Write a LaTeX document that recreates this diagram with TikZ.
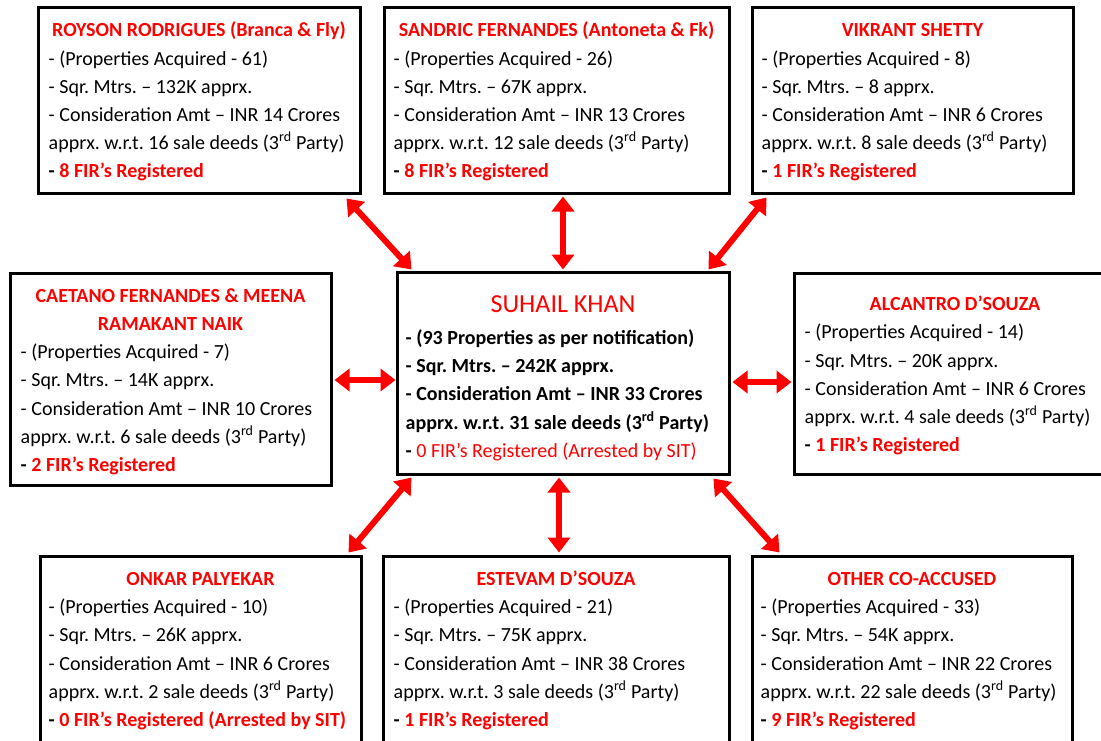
\documentclass[tikz,border=0pt]{standalone}
\usepackage{fontspec}
\setmainfont{Carlito}
\usetikzlibrary{arrows.meta,calc}
\newcommand{\redtxt}[1]{\textcolor{red}{#1}}
\newcommand{\trd}{3\textsuperscript{rd}}
\frenchspacing
\begin{document}
\begin{tikzpicture}[x=1pt,y=-1pt,
  box/.style={draw=black,line width=3pt,inner sep=0pt},
  ttl/.style={anchor=north,inner sep=0pt,align=center,text=red,font=\frenchspacing\fontsize{20}{28.1}\selectfont\bfseries},
  body/.style={anchor=north west,inner sep=0pt,align=left,font=\frenchspacing\fontsize{20}{28.1}\selectfont},
  arr/.style={draw=red,line width=6pt,arrows={Triangle[width=22pt,length=15pt]-Triangle[width=22pt,length=15pt]}}]
\useasboundingbox (0,0) rectangle (1101,740);
\fill[white] (0,0) rectangle (1101,740);

% boxes
\node[box,minimum width=322pt,minimum height=186pt] (royson) at (199,100) {};
\node[box,minimum width=345pt,minimum height=186pt] (sandric) at (556.5,100) {};
\node[box,minimum width=321pt,minimum height=186pt] (vikrant) at (912.5,100) {};
\node[box,minimum width=321pt,minimum height=212pt] (caetano) at (170.5,379) {};
\node[box,minimum width=332pt,minimum height=202pt] (suhail) at (563,373) {};
\node[box,minimum width=322pt,minimum height=201pt] (alcantro) at (955,373.5) {};
\node[box,minimum width=321pt,minimum height=187pt] (onkar) at (200.5,649.5) {};
\node[box,minimum width=346pt,minimum height=187pt] (estevam) at (556,649.5) {};
\node[box,minimum width=320pt,minimum height=187pt] (other) at (912,649.5) {};

% titles
\node[ttl] (royson-t) at ($(royson.north)+(0,11.6)$) {\strut ROYSON RODRIGUES (Branca \& Fly)};
\node[ttl] (sandric-t) at ($(sandric.north)+(0,11.6)$) {\strut SANDRIC FERNANDES (Antoneta \& Fk)};
\node[ttl] (vikrant-t) at ($(vikrant.north)+(0,11.6)$) {\strut VIKRANT SHETTY};
\node[ttl] (caetano-t) at ($(caetano.north)+(0,11.3)$) {\strut CAETANO FERNANDES \& MEENA\\\strut RAMAKANT NAIK};
\node[ttl,font=\fontsize{26}{28.35}\selectfont] (suhail-t) at ($(suhail.north)+(0,22.1)$) {\strut SUHAIL KHAN};
\node[ttl] (alcantro-t) at ($(alcantro.north)+(0,19.6)$) {\strut ALCANTRO D’SOUZA};
\node[ttl] (onkar-t) at ($(onkar.north)+(0,11.1)$) {\strut ONKAR PALYEKAR};
\node[ttl] (estevam-t) at ($(estevam.north)+(0,11.1)$) {\strut ESTEVAM D’SOUZA};
\node[ttl] (other-t) at ($(other.north)+(0,11.1)$) {\strut OTHER CO-ACCUSED};

% bodies
\node[body] (royson-b) at ($(royson.north west)+(12,39.7)$) {\strut - (Properties Acquired - 61)\\
- Sqr. Mtrs. – 132K apprx.\\
- Consideration Amt – INR 14 Crores\\
apprx. w.r.t. 16 sale deeds (\trd{} Party)\\
\textbf{- \redtxt{8 FIR’s Registered}}};
\node[body] (sandric-b) at ($(sandric.north west)+(11,39.7)$) {\strut - (Properties Acquired - 26)\\
- Sqr. Mtrs. – 67K apprx.\\
- Consideration Amt – INR 13 Crores\\
apprx. w.r.t. 12 sale deeds (\trd{} Party)\\
\textbf{- \redtxt{8 FIR’s Registered}}};
\node[body] (vikrant-b) at ($(vikrant.north west)+(11,39.7)$) {\strut - (Properties Acquired - 8)\\
- Sqr. Mtrs. – 8 apprx.\\
- Consideration Amt – INR 6 Crores\\
apprx. w.r.t. 8 sale deeds (\trd{} Party)\\
\textbf{- \redtxt{1 FIR’s Registered}}};
\node[body] (caetano-b) at ($(caetano.north west)+(12,67.5)$) {\strut - (Properties Acquired - 7)\\
- Sqr. Mtrs. – 14K apprx.\\
- Consideration Amt – INR 10 Crores\\
apprx. w.r.t. 6 sale deeds (\trd{} Party)\\
\textbf{- \redtxt{2 FIR’s Registered}}};
\node[body,font=\frenchspacing\fontsize{20}{28.35}\selectfont\bfseries] (suhail-b) at ($(suhail.north west)+(10,53.6)$) {\strut - (93 Properties as per notification)\\
- Sqr. Mtrs. – 242K apprx.\\
- Consideration Amt – INR 33 Crores\\
apprx. w.r.t. 31 sale deeds (\trd{} Party)\\
- \mdseries\redtxt{0 FIR’s Registered (Arrested by SIT)}};
\node[body] (alcantro-b) at ($(alcantro.north west)+(12,47.6)$) {\strut - (Properties Acquired - 14)\\
- Sqr. Mtrs. – 20K apprx.\\
- Consideration Amt – INR 6 Crores\\
apprx. w.r.t. 4 sale deeds (\trd{} Party)\\
\textbf{- \redtxt{1 FIR’s Registered}}};
\node[body] (onkar-b) at ($(onkar.north west)+(10,39.5)$) {\strut - (Properties Acquired - 10)\\
- Sqr. Mtrs. – 26K apprx.\\
- Consideration Amt – INR 6 Crores\\
apprx. w.r.t. 2 sale deeds (\trd{} Party)\\
\textbf{- \redtxt{0 FIR’s Registered (Arrested by SIT)}}};
\node[body] (estevam-b) at ($(estevam.north west)+(12,39.5)$) {\strut - (Properties Acquired - 21)\\
- Sqr. Mtrs. – 75K apprx.\\
- Consideration Amt – INR 38 Crores\\
apprx. w.r.t. 3 sale deeds (\trd{} Party)\\
\textbf{- \redtxt{1 FIR’s Registered}}};
\node[body] (other-b) at ($(other.north west)+(10,39.5)$) {\strut - (Properties Acquired - 33)\\
- Sqr. Mtrs. – 54K apprx.\\
- Consideration Amt – INR 22 Crores\\
apprx. w.r.t. 22 sale deeds (\trd{} Party)\\
\textbf{- \redtxt{9 FIR’s Registered}}};

% connectors
\draw[arr] ($(royson.south east)+(-15,4)$) -- ($(suhail.north west)+(16,-1)$);
\draw[arr] ($(suhail.north |- sandric.south)+(0,2)$) -- ($(suhail.north)+(0,-1)$);
\draw[arr] ($(vikrant.south west)+(16,3)$) -- ($(suhail.north east)+(-22,-1)$);
\draw[arr] ($(caetano.east)+(2,1)$) -- ($(suhail.west |- caetano.east)+(0,1)$);
\draw[arr] ($(suhail.east)+(2,9)$) -- ($(alcantro.west |- suhail.east)+(-1,9)$);
\draw[arr] ($(suhail.south west)+(16,2)$) -- ($(onkar.north east)+(-14,-2)$);
\draw[arr] ($(suhail.south)+(-4,2)$) -- ($(estevam.north)+(3,-2)$);
\draw[arr] ($(suhail.south east)+(-17,3)$) -- ($(other.north west)+(29,-2)$);
\end{tikzpicture}
\end{document}
